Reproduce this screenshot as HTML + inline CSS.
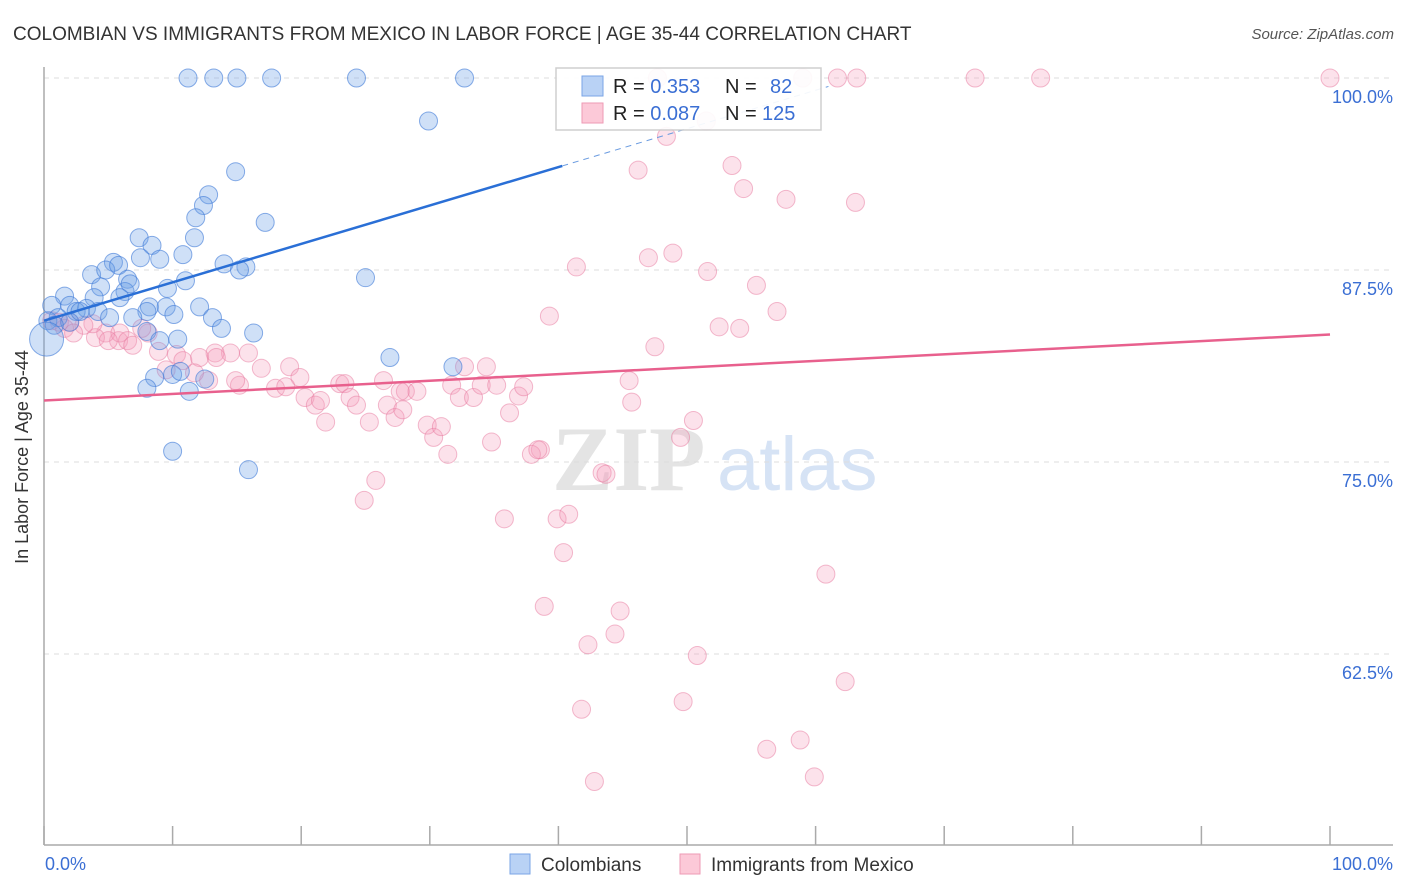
<!DOCTYPE html>
<html><head><meta charset="utf-8">
<style>
body{margin:0;background:#fff;font-family:"Liberation Sans",sans-serif;}
#wrap{position:relative;width:1406px;height:892px;overflow:hidden;}
</style></head>
<body>
<div id="wrap">
<svg id="chart" width="1406" height="892" xmlns="http://www.w3.org/2000/svg">
<text x="13" y="40" font-size="19" fill="#333">COLOMBIAN VS IMMIGRANTS FROM MEXICO IN LABOR FORCE | AGE 35-44 CORRELATION CHART</text>
<text x="1394" y="39" font-size="15" fill="#555" font-style="italic" text-anchor="end">Source: ZipAtlas.com</text>
<g>
<text x="552" y="490" font-size="92" font-family="Liberation Serif,serif" fill="#e4e4e4" font-weight="bold">ZIP</text>
<text x="717" y="490" font-size="76" fill="#d6e3f5">atlas</text>
</g>
<g id="grid"></g>
<g id="axes"></g>
<g id="pinkPts"></g>
<g id="bluePts"></g>
<g id="trends"></g>
<text x="28" y="457" font-size="18" fill="#333" text-anchor="middle" transform="rotate(-90 28 457)">In Labor Force | Age 35-44</text>
<g>
<rect x="556" y="68" width="265" height="62" fill="#fff" stroke="#ccc" stroke-width="1.5" opacity="0.92"/>
<rect x="582" y="76" width="21" height="20" fill="#b9d2f5" stroke="#7aa4e6"/>
<rect x="582" y="103" width="21" height="20" fill="#fcc9d8" stroke="#ee9ab4"/>
<text x="613" y="93" font-size="20" fill="#222">R = <tspan fill="#3b6fd4">0.353</tspan><tspan x="725">N = </tspan><tspan x="770" fill="#3b6fd4">82</tspan></text>
<text x="613" y="120" font-size="20" fill="#222">R = <tspan fill="#3b6fd4">0.087</tspan><tspan x="725">N = </tspan><tspan x="762" fill="#3b6fd4">125</tspan></text>
</g>
<g>
<rect x="510" y="854" width="20" height="20" fill="#b9d2f5" stroke="#7aa4e6"/>
<text x="541" y="871" font-size="19" fill="#333">Colombians</text>
<rect x="680" y="854" width="20" height="20" fill="#fcc9d8" stroke="#ee9ab4"/>
<text x="711" y="871" font-size="19" fill="#333">Immigrants from Mexico</text>
</g>
</svg>
</div>
<script>
const blueX=[11.2,13.2,15.0,17.7,24.3,32.7,29.9,14.9,12.8,12.4,11.8,17.2,11.7,7.4,8.4,10.8,5.4,7.5,9.0,14.0,15.7,15.2,25.0,3.7,4.8,5.8,6.5,11.0,9.6,4.4,6.3,6.7,3.9,5.9,1.6,0.6,2.0,3.3,2.5,4.2,1.1,8.2,8.0,9.5,10.1,12.1,6.9,5.1,13.1,13.8,16.3,8.0,9.0,10.4,2.0,26.9,31.8,8.6,10.0,10.6,12.5,8.0,11.3,10.0,15.9,0.3,2.8,0.8,0.2];
const blueY=[100,100,100,100,100,100,97.2,93.9,92.4,91.7,90.9,90.6,89.6,89.6,89.1,88.5,88.0,88.3,88.2,87.9,87.7,87.5,87.0,87.2,87.5,87.8,86.9,86.8,86.3,86.4,86.1,86.6,85.7,85.7,85.8,85.2,85.2,85.0,84.8,84.8,84.4,85.1,84.8,85.1,84.6,85.1,84.4,84.4,84.4,83.7,83.4,83.5,82.9,83.0,84.1,81.8,81.2,80.5,80.7,80.9,80.4,79.8,79.6,75.7,74.5,84.2,84.8,83.9,83.0];
const pinkX=[47.7,59.0,61.7,63.2,72.4,77.5,100,51.5,48.4,53.5,46.2,54.4,57.7,63.1,48.9,47.0,41.4,51.6,55.4,39.3,52.5,54.1,57.0,47.5,45.5,45.7,50.5,49.5,38.6,43.4,43.7,25.8,24.9,35.8,39.9,40.8,40.4,60.8,38.9,44.8,44.4,42.3,50.8,62.3,49.7,41.8,56.2,58.8,59.9,42.8,
14.5,15.9,13.3,19.1,16.9,19.9,18.0,15.2,14.9,18.8,20.3,21.1,21.5,21.9,23.0,23.4,23.8,24.3,25.3,26.4,26.7,27.3,27.9,28.1,29.0,29.8,30.3,30.9,31.4,31.7,32.3,32.7,33.4,34.0,34.4,34.8,35.2,36.2,36.9,37.3,37.9,38.4,10.3,10.8,12.1,9.5,8.9,12.8,11.7,8.1,7.6,5.8,4.8,4.0,3.8,3.1,2.0,1.2,0.6,1.6,2.3,5.9,6.5,6.9,5.0,13.4,27.7];
const pinkY=[100,100,100,100,100,100,100,97.2,96.2,94.3,94.0,92.8,92.1,91.9,88.6,88.3,87.7,87.4,86.5,84.5,83.8,83.7,84.8,82.5,80.3,78.9,77.7,76.6,75.8,74.3,74.2,73.8,72.5,71.3,71.3,71.6,69.1,67.7,65.6,65.3,63.8,63.1,62.4,60.7,59.4,58.9,56.3,56.9,54.5,54.2,
82.1,82.1,82.1,81.2,81.1,80.5,79.8,80.0,80.3,79.9,79.2,78.7,79.0,77.6,80.1,80.1,79.2,78.7,77.6,80.3,78.7,77.9,78.4,79.6,79.6,77.4,76.6,77.3,75.5,80.0,79.2,81.2,79.2,80.0,81.2,76.3,80.0,78.2,79.3,79.9,75.5,75.8,82.0,81.6,81.8,81.0,82.2,80.3,80.8,83.4,83.7,82.9,83.4,83.1,84.0,83.9,84.1,84.1,84.2,83.7,83.4,83.4,82.9,82.6,82.9,81.8,79.6];
const yTicks=[62.5,75.0,87.5,100.0];
const yTickLabels=["62.5%","75.0%","87.5%","100.0%"];
const xTicks=[0,10,20,30,40,50,60,70,80,90,100];
const blueTrend=[84.2,0.25];
const pinkTrend=[79.0,0.043];
const blueSolidEnd=40.3, blueDashEnd=61;

const NS="http://www.w3.org/2000/svg";
const xs=v=>44+v*12.86;
const ys=v=>78+(100-v)*15.36;
function mk(tag,attrs,parent){const e=document.createElementNS(NS,tag);for(const k in attrs)e.setAttribute(k,attrs[k]);parent.appendChild(e);return e;}
const grid=document.getElementById('grid'),axes=document.getElementById('axes');
yTicks.forEach((t,i)=>{
  const l=mk('line',{x1:44,x2:1393,y1:ys(t),y2:ys(t),stroke:'#ddd','stroke-dasharray':'5,5'},grid);
  
  
  const tx=mk('text',{x:1393,y:ys(t)+25,'font-size':18,fill:'#3b6fd4','text-anchor':'end'},axes);
  tx.textContent=yTickLabels[i];
  
  
});
const ax=mk('line',{x1:44,x2:1393,y1:845,y2:845,stroke:'#aaa','stroke-width':1.5},axes);


const ay=mk('line',{x1:44,x2:44,y1:67,y2:845,stroke:'#aaa','stroke-width':1.5},axes);


xTicks.forEach(t=>{
  const l=mk('line',{x1:xs(t),x2:xs(t),y1:826,y2:845,stroke:'#aaa','stroke-width':1.5},axes);
  
  
});
const xl0=mk('text',{x:45,y:870,'font-size':18,fill:'#3b6fd4'},axes);xl0.textContent='0.0%';


const xl1=mk('text',{x:1393,y:870,'font-size':18,fill:'#3b6fd4','text-anchor':'end'},axes);xl1.textContent='100.0%';



const pg=document.getElementById('pinkPts');
pinkX.forEach((x,i)=>{
  const c=mk('circle',{cx:xs(x),cy:ys(pinkY[i]),r:9,fill:'rgba(246,160,188,0.3)',stroke:'rgba(232,120,158,0.5)','stroke-width':1},pg);
  
  
});
const bg=document.getElementById('bluePts');
blueX.forEach((x,i)=>{
  const c=mk('circle',{cx:xs(x),cy:ys(blueY[i]),r:i===blueX.length-1?17:9,fill:'rgba(110,160,232,0.33)',stroke:'rgba(60,120,215,0.6)','stroke-width':1},bg);
  
  
});
const tg=document.getElementById('trends');
const bt=v=>blueTrend[0]+blueTrend[1]*v, pt=v=>pinkTrend[0]+pinkTrend[1]*v;
const l1=mk('line',{x1:xs(0),y1:ys(bt(0)),x2:xs(blueSolidEnd),y2:ys(bt(blueSolidEnd)),stroke:'#2a6fd6','stroke-width':2.5},tg);


const l2=mk('line',{x1:xs(blueSolidEnd),y1:ys(bt(blueSolidEnd)),x2:xs(blueDashEnd),y2:ys(bt(blueDashEnd)),stroke:'#6a9be0','stroke-width':1,'stroke-dasharray':'6,5'},tg);


const l3=mk('line',{x1:xs(0),y1:ys(pt(0)),x2:xs(100),y2:ys(pt(100)),stroke:'#e8608d','stroke-width':2.5},tg);


</script>
</body></html>
